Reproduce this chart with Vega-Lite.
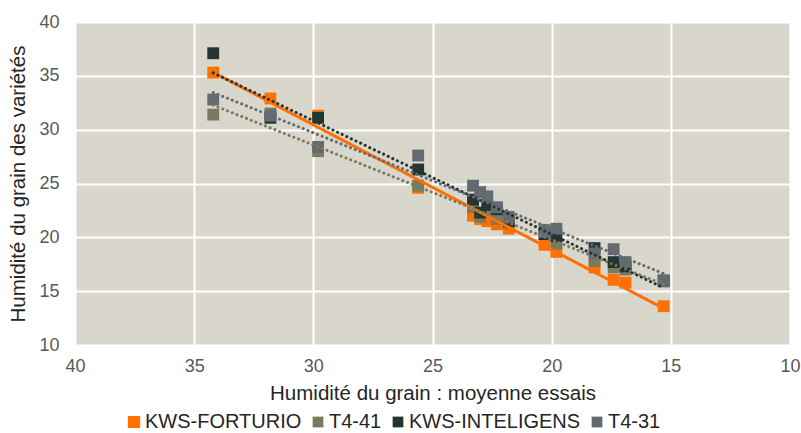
{
  "$schema": "https://vega.github.io/schema/vega-lite/v6.json",
  "width": 715,
  "height": 323,
  "autosize": {"type": "none"},
  "padding": {"left": 75, "top": 22, "right": 11, "bottom": 88},
  "background": "white",
  "config": {
    "font": "Liberation Sans",
    "view": {"fill": "#d9d6cc", "stroke": null},
    "axis": {
      "grid": true, "gridColor": "white", "gridWidth": 2, "gridOpacity": 1,
      "domain": false, "ticks": false, "labelFlush": false,
      "labelFont": "Liberation Sans", "labelFontSize": 18, "labelColor": "#595959",
      "titleFont": "Liberation Sans", "titleFontSize": 20.5, "titleFontWeight": "normal", "titleColor": "#262626"
    },
    "legend": {"labelFont": "Liberation Sans", "labelFontSize": 20, "labelColor": "#262626", "labelLimit": 400}
  },
  "data": {
    "values": [
      {"essai": 34.2, "humidite": 35.3, "variete": "KWS-FORTURIO"},
      {"essai": 31.8, "humidite": 32.9, "variete": "KWS-FORTURIO"},
      {"essai": 29.8, "humidite": 31.3, "variete": "KWS-FORTURIO"},
      {"essai": 25.6, "humidite": 24.6, "variete": "KWS-FORTURIO"},
      {"essai": 23.3, "humidite": 22.0, "variete": "KWS-FORTURIO"},
      {"essai": 23.0, "humidite": 21.7, "variete": "KWS-FORTURIO"},
      {"essai": 22.7, "humidite": 21.5, "variete": "KWS-FORTURIO"},
      {"essai": 22.3, "humidite": 21.2, "variete": "KWS-FORTURIO"},
      {"essai": 21.8, "humidite": 20.8, "variete": "KWS-FORTURIO"},
      {"essai": 20.3, "humidite": 19.3, "variete": "KWS-FORTURIO"},
      {"essai": 19.8, "humidite": 18.65, "variete": "KWS-FORTURIO"},
      {"essai": 18.2, "humidite": 17.2, "variete": "KWS-FORTURIO"},
      {"essai": 17.4, "humidite": 16.05, "variete": "KWS-FORTURIO"},
      {"essai": 16.9, "humidite": 15.8, "variete": "KWS-FORTURIO"},
      {"essai": 15.3, "humidite": 13.6, "variete": "KWS-FORTURIO"},

      {"essai": 34.2, "humidite": 31.4, "variete": "T4-41"},
      {"essai": 31.8, "humidite": 31.5, "variete": "T4-41"},
      {"essai": 29.8, "humidite": 28.0, "variete": "T4-41"},
      {"essai": 25.6, "humidite": 24.8, "variete": "T4-41"},
      {"essai": 23.3, "humidite": 22.8, "variete": "T4-41"},
      {"essai": 23.0, "humidite": 21.9, "variete": "T4-41"},
      {"essai": 22.7, "humidite": 22.5, "variete": "T4-41"},
      {"essai": 22.3, "humidite": 21.7, "variete": "T4-41"},
      {"essai": 21.8, "humidite": 21.3, "variete": "T4-41"},
      {"essai": 20.3, "humidite": 20.7, "variete": "T4-41"},
      {"essai": 19.8, "humidite": 19.4, "variete": "T4-41"},
      {"essai": 18.2, "humidite": 17.8, "variete": "T4-41"},
      {"essai": 17.4, "humidite": 17.2, "variete": "T4-41"},
      {"essai": 16.9, "humidite": 17.0, "variete": "T4-41"},
      {"essai": 15.3, "humidite": 15.9, "variete": "T4-41"},

      {"essai": 34.2, "humidite": 37.1, "variete": "KWS-INTELIGENS"},
      {"essai": 31.8, "humidite": 31.1, "variete": "KWS-INTELIGENS"},
      {"essai": 29.8, "humidite": 31.1, "variete": "KWS-INTELIGENS"},
      {"essai": 25.6, "humidite": 26.3, "variete": "KWS-INTELIGENS"},
      {"essai": 23.3, "humidite": 23.5, "variete": "KWS-INTELIGENS"},
      {"essai": 23.0, "humidite": 22.3, "variete": "KWS-INTELIGENS"},
      {"essai": 22.7, "humidite": 23.0, "variete": "KWS-INTELIGENS"},
      {"essai": 22.3, "humidite": 22.6, "variete": "KWS-INTELIGENS"},
      {"essai": 21.8, "humidite": 21.5, "variete": "KWS-INTELIGENS"},
      {"essai": 20.3, "humidite": 20.3, "variete": "KWS-INTELIGENS"},
      {"essai": 19.8, "humidite": 20.1, "variete": "KWS-INTELIGENS"},
      {"essai": 18.2, "humidite": 19.0, "variete": "KWS-INTELIGENS"},
      {"essai": 17.4, "humidite": 17.7, "variete": "KWS-INTELIGENS"},
      {"essai": 16.9, "humidite": 17.3, "variete": "KWS-INTELIGENS"},
      {"essai": 15.3, "humidite": 16.0, "variete": "KWS-INTELIGENS"},

      {"essai": 34.2, "humidite": 32.8, "variete": "T4-31"},
      {"essai": 31.8, "humidite": 31.3, "variete": "T4-31"},
      {"essai": 29.8, "humidite": 28.4, "variete": "T4-31"},
      {"essai": 25.6, "humidite": 27.6, "variete": "T4-31"},
      {"essai": 23.3, "humidite": 24.8, "variete": "T4-31"},
      {"essai": 23.0, "humidite": 24.2, "variete": "T4-31"},
      {"essai": 22.7, "humidite": 23.8, "variete": "T4-31"},
      {"essai": 22.3, "humidite": 22.8, "variete": "T4-31"},
      {"essai": 21.8, "humidite": 21.9, "variete": "T4-31"},
      {"essai": 20.3, "humidite": 20.5, "variete": "T4-31"},
      {"essai": 19.8, "humidite": 20.8, "variete": "T4-31"},
      {"essai": 18.2, "humidite": 18.5, "variete": "T4-31"},
      {"essai": 17.4, "humidite": 18.9, "variete": "T4-31"},
      {"essai": 16.9, "humidite": 17.7, "variete": "T4-31"},
      {"essai": 15.3, "humidite": 15.95, "variete": "T4-31"}
    ]
  },
  "encoding": {
    "x": {
      "field": "essai", "type": "quantitative",
      "scale": {"domain": [10, 40], "reverse": true, "nice": false, "zero": false},
      "axis": {"values": [10, 15, 20, 25, 30, 35, 40], "title": "Humidité du grain : moyenne essais", "labelPadding": 12, "titlePadding": 8}
    },
    "y": {
      "field": "humidite", "type": "quantitative",
      "scale": {"domain": [10, 40], "nice": false, "zero": false},
      "axis": {"values": [10, 15, 20, 25, 30, 35, 40], "title": "Humidité du grain des variétés", "labelPadding": 16, "titlePadding": 10}
    },
    "color": {
      "field": "variete", "type": "nominal",
      "scale": {
        "domain": ["KWS-FORTURIO", "T4-41", "KWS-INTELIGENS", "T4-31"],
        "range": ["#ff7003", "#7a7a5e", "#243634", "#636a70"]
      },
      "legend": {
        "title": null, "orient": "none", "direction": "horizontal",
        "legendX": 49, "legendY": 390, "symbolType": "square", "symbolSize": 115,
        "symbolOpacity": 1, "labelOffset": 1, "columnPadding": 6, "labelLimit": 400
      }
    }
  },
  "layer": [
    {
      "mark": {"type": "point", "shape": "square", "filled": true, "opacity": 1, "size": 140}
    },
    {
      "transform": [{"regression": "humidite", "on": "essai", "groupby": ["variete"]}],
      "mark": {"type": "line", "strokeWidth": 3, "strokeCap": "round"},
      "encoding": {
        "strokeDash": {
          "field": "variete", "type": "nominal",
          "scale": {
            "domain": ["KWS-FORTURIO", "T4-41", "KWS-INTELIGENS", "T4-31"],
            "range": [[1, 0], [0.1, 5], [0.1, 5], [0.1, 5]]
          },
          "legend": null
        }
      }
    }
  ]
}
